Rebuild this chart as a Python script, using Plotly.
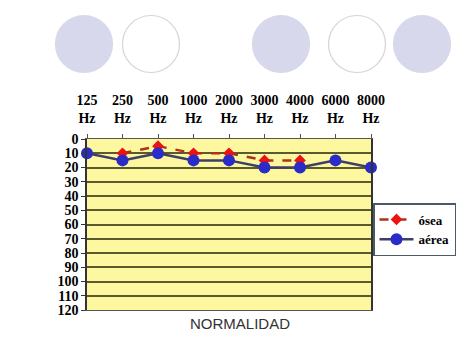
import plotly.graph_objects as go

freqs = ["125", "250", "500", "1000", "2000", "3000", "4000", "6000", "8000"]
osea = [None, 10, 5, 10, 10, 15, 15, None, None]
aerea = [10, 15, 10, 15, 15, 20, 20, 15, 20]
y_ticks = list(range(0, 121, 10))

W, H = 474, 355
L, R, T, B = 87, 371, 139, 310

def px(x):
    return (x - L) / (R - L)

def py(y):
    return (B - y) / (B - T)

xs = list(range(len(freqs)))
serif = "Liberation Serif"

fig = go.Figure()
fig.add_trace(go.Scatter(
    x=xs, y=osea, name="<b>ósea</b>", mode="lines+markers",
    line=dict(color="#b0301a", width=2.5, dash="dash"),
    marker=dict(symbol="diamond", size=9, color="#ee1111"),
    cliponaxis=False, connectgaps=False,
))
fig.add_trace(go.Scatter(
    x=xs, y=aerea, name="<b>aérea</b>", mode="lines+markers",
    line=dict(color="#3e3e66", width=2.5),
    marker=dict(symbol="circle", size=12, color="#2b2bc8"),
    cliponaxis=False,
))

shapes = []
circles = [(84, 44, True), (151, 44, False), (281, 44, True), (357, 44, False), (422, 44, True)]
for cx, cy, filled in circles:
    r = 28.5
    shapes.append(dict(
        type="circle", xref="paper", yref="paper",
        x0=px(cx - r), x1=px(cx + r), y0=py(cy + r), y1=py(cy - r),
        fillcolor="#d8d8ec" if filled else "white",
        line=dict(color="#d8d8ec" if filled else "#d4d4d8", width=1.2),
        layer="above",
    ))

fig.update_layout(
    width=W, height=H,
    margin=dict(l=L, r=W - R, t=T, b=H - B),
    paper_bgcolor="white",
    plot_bgcolor="#fdf7a0",
    shapes=shapes,
    showlegend=True,
    legend=dict(
        x=px(373), y=py(203), xanchor="left", yanchor="top",
        bordercolor="#4a5a6a", borderwidth=1.5, bgcolor="white",
        font=dict(family=serif, size=13, color="black"),
        tracegroupgap=0, itemwidth=34,
    ),
    annotations=[dict(
        text="NORMALIDAD", xref="paper", yref="paper",
        x=px(240), y=py(323), xanchor="center", yanchor="middle",
        showarrow=False, font=dict(family="Liberation Sans, Arial", size=15, color="#333333"),
    )],
)

fig.update_xaxes(
    side="top", range=[0, 8], tickmode="array", tickvals=xs,
    ticktext=[f"<b>{f}</b><br><b>Hz</b>" for f in freqs],
    ticks="outside", ticklen=4, tickcolor="#555555",
    tickfont=dict(family=serif, size=14, color="black"),
    showgrid=False, showline=True, linecolor="#555555", linewidth=1, mirror=True,
    zeroline=False, ticklabelstandoff=5,
)
fig.update_yaxes(
    range=[120, 0], tickmode="array", tickvals=y_ticks,
    ticktext=[f"<b>{v}</b>" for v in y_ticks],
    ticks="outside", ticklen=4, tickcolor="#333333",
    tickfont=dict(family=serif, size=14, color="black"),
    showgrid=True, gridcolor="#5a5a2a", gridwidth=1.5,
    showline=True, linecolor="#333333", linewidth=1.5, mirror=True,
    zeroline=False,
)

fig.write_html("out.html")
